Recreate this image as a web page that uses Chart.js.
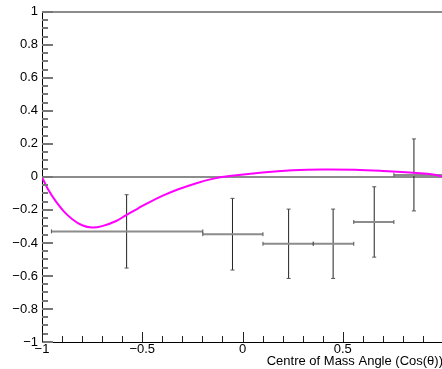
<!DOCTYPE html>
<html>
<head>
<meta charset="utf-8">
<script src="https://cdn.jsdelivr.net/npm/chart.js"></script>
<style>
  html, body { margin: 0; padding: 0; overflow: hidden; background: #fff; }
  canvas { display: block; }
</style>
</head>
<body>
<canvas id="asymChart" width="445" height="369"></canvas>
<script>
// measured bins (cos theta) with errors
var binCentres = [-0.578, -0.05, 0.23, 0.452, 0.657, 0.855];
var binLow = [-0.953, -0.198, 0.102, 0.353, 0.555, 0.755];
var binHigh = [-0.198, 0.102, 0.353, 0.555, 0.755, 1.0];
var values = [-0.33, -0.347, -0.405, -0.405, -0.273, 0.012];
var errors = [0.222, 0.217, 0.21, 0.21, 0.213, 0.218];

// magenta theory curve
var curveX = [-1, -0.97, -0.93, -0.89, -0.85, -0.8, -0.75, -0.7, -0.63, -0.58, -0.52, -0.48, -0.4, -0.32, -0.23, -0.15, -0.065, 0.1, 0.25, 0.4, 0.56, 0.7, 0.87, 0.95, 1.0];
var curveY = [0, -0.075, -0.15, -0.21, -0.255, -0.293, -0.307, -0.298, -0.267, -0.231, -0.19, -0.163, -0.115, -0.075, -0.038, -0.012, 0.005, 0.027, 0.04, 0.045, 0.043, 0.036, 0.024, 0.015, 0.0];

var xAxisTitle = 'Centre of Mass Angle (Cos(\u03B8))';
var fontName = "'Liberation Sans', Arial, sans-serif";

var curve = [];
for (var i = 0; i < curveX.length; i++) {
  curve.push({x: curveX[i], y: curveY[i]});
}

// error bars as broken line segments
var hBars = [];
var vBars = [];
for (var j = 0; j < binCentres.length; j++) {
  hBars.push({x: binLow[j], y: values[j]}, {x: binHigh[j], y: values[j]}, {x: binHigh[j], y: null});
  vBars.push({x: binCentres[j], y: values[j] - errors[j]}, {x: binCentres[j], y: values[j] + errors[j]}, {x: binCentres[j], y: null});
}

function minusSign(v) {
  var s = String(Math.round(v * 100) / 100);
  return s.replace('-', '\u2212');
}

// ROOT style ticks drawn inside the frame
var insideTicks = {
  id: 'insideTicks',
  afterDraw: function(chart) {
    var c = chart.ctx;
    var xs = chart.scales.x;
    var ys = chart.scales.y;
    var area = chart.chartArea;
    c.save();
    c.strokeStyle = '#777';
    c.lineWidth = 2;
    for (var k = 0; k <= 40; k++) {
      var v = -1 + k * 0.05;
      var py = Math.round(ys.getPixelForValue(v));
      var len = (k % 4 === 0) ? 11 : 6;
      c.beginPath();
      c.moveTo(area.left, py);
      c.lineTo(area.left + len, py);
      c.stroke();
    }
    c.strokeStyle = '#222';
    c.lineWidth = 1;
    for (var m = 0; m <= 20; m++) {
      var xv = -1 + m * 0.1;
      var px = Math.round(xs.getPixelForValue(xv)) + 0.5;
      var l = (m % 5 === 0) ? 10 : 6;
      c.beginPath();
      c.moveTo(px, area.bottom);
      c.lineTo(px, area.bottom - l);
      c.stroke();
    }
    c.restore();
  }
};

var ctx = document.getElementById('asymChart').getContext('2d');
var asymChart = new Chart(ctx, {
  type: 'scatter',
  data: {
    datasets: [{
      label: 'theory',
      data: curve,
      showLine: true,
      borderColor: '#ff00ff',
      borderWidth: 2,
      pointRadius: 0,
      tension: 0.4,
      fill: false,
      order: 1
    }, {
      label: 'bin width',
      data: hBars,
      showLine: true,
      spanGaps: false,
      borderColor: '#8c8c8c',
      borderWidth: 2,
      pointStyle: 'line',
      pointRotation: 90,
      pointRadius: 2,
      pointBorderWidth: 1,
      pointBorderColor: '#555',
      order: 2
    }, {
      label: 'errors',
      data: vBars,
      showLine: true,
      spanGaps: false,
      borderColor: '#222',
      borderWidth: 1,
      pointStyle: 'line',
      pointRotation: 0,
      pointRadius: 2,
      pointBorderWidth: 1,
      pointBorderColor: '#555',
      order: 3
    }]
  },
  options: {
    responsive: false,
    animation: false,
    layout: { autoPadding: false, padding: { left: 0, top: 10, right: 2, bottom: 0 } },
    plugins: { legend: { display: false }, tooltip: { enabled: false } },
    scales: {
      x: {
        type: 'linear',
        min: -1,
        max: 1,
        afterFit: function(scale) { scale.height = 27; },
        border: { display: true, color: '#000', width: 1 },
        grid: { drawOnChartArea: false, drawTicks: false },
        ticks: {
          stepSize: 0.5,
          autoSkip: false,
          maxRotation: 0,
          padding: 0,
          color: '#000',
          font: { family: fontName, size: 13 },
          callback: function(v) { return v === 1 ? '' : minusSign(v); }
        },
        title: {
          display: true,
          text: xAxisTitle,
          align: 'end',
          color: '#000',
          font: { family: fontName, size: 13 },
          padding: { top: 0, bottom: 0 }
        }
      },
      y: {
        type: 'linear',
        min: -1,
        max: 1,
        afterFit: function(scale) { scale.width = 42; },
        border: { display: true, color: '#000', width: 1 },
        grid: {
          drawTicks: false,
          lineWidth: 2,
          color: function(c) {
            if (c.tick && (c.tick.value === 0 || c.tick.value === 1)) return '#8c8c8c';
            return 'rgba(0,0,0,0)';
          }
        },
        ticks: {
          stepSize: 0.2,
          autoSkip: false,
          padding: 4,
          color: '#000',
          font: { family: fontName, size: 13 },
          callback: function(v) { return minusSign(v); }
        }
      }
    }
  },
  plugins: [insideTicks]
});
</script>
</body>
</html>
